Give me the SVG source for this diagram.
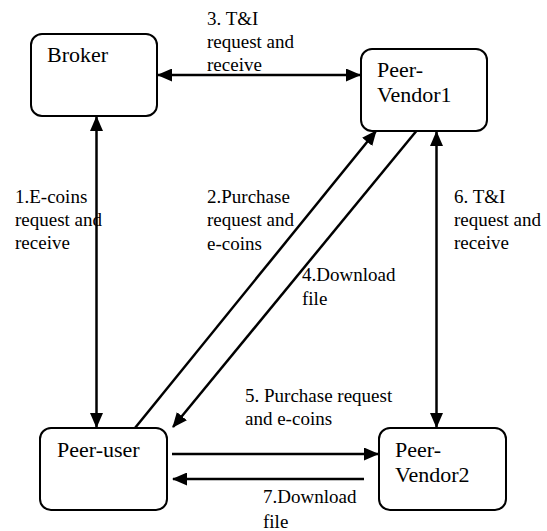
<svg xmlns="http://www.w3.org/2000/svg" width="547" height="531" viewBox="0 0 547 531">
<style>
.box{fill:#fff;stroke:#000;stroke-width:2}
.ln{stroke:#000;stroke-width:2.5;fill:none}
</style>
<defs>
<marker id="ah" markerUnits="userSpaceOnUse" markerWidth="15" markerHeight="13" viewBox="0 0 15 13" refX="14" refY="6.5" orient="auto-start-reverse">
<path d="M0,0 L15,6.5 L0,13 z" fill="#000"/>
</marker>
</defs>
<rect width="547" height="531" fill="#fff"/>
<g id="connectors">
<line class="ln" x1="158" y1="75" x2="360" y2="75" marker-start="url(#ah)" marker-end="url(#ah)"/>
<line class="ln" x1="96.5" y1="117" x2="96.5" y2="427" marker-start="url(#ah)" marker-end="url(#ah)"/>
<line class="ln" x1="436.5" y1="132" x2="436.5" y2="427" marker-start="url(#ah)" marker-end="url(#ah)"/>
<line class="ln" x1="135" y1="428" x2="376" y2="131" marker-end="url(#ah)"/>
<line class="ln" x1="418" y1="129" x2="173" y2="427" marker-end="url(#ah)"/>
<line class="ln" x1="172" y1="454" x2="378" y2="454" marker-end="url(#ah)"/>
<line class="ln" x1="364" y1="479" x2="173" y2="479" marker-end="url(#ah)"/>
</g>
<g font-family="Liberation Serif, Times New Roman, Times, serif" font-size="22" fill="#000">
<g id="broker">
<rect class="box" x="31" y="34" width="126" height="82" rx="11"/>
<text x="47" y="62">Broker</text>
</g>
<g id="peer-vendor1">
<rect class="box" x="361" y="49" width="126" height="82" rx="11"/>
<text x="377" y="77">Peer-</text>
<text x="377" y="102">Vendor1</text>
</g>
<g id="peer-user">
<rect class="box" x="40" y="428" width="127" height="82" rx="11"/>
<text x="57" y="457">Peer-user</text>
</g>
<g id="peer-vendor2">
<rect class="box" x="379" y="428" width="127" height="82" rx="11"/>
<text x="395" y="457">Peer-</text>
<text x="395" y="482">Vendor2</text>
</g>
</g>
<g id="labels" font-family="Liberation Serif, Times New Roman, Times, serif" font-size="19" fill="#000">
<text x="207" y="25">3. T&amp;I</text>
<text x="207" y="48">request and</text>
<text x="207" y="71">receive</text>
<text x="15" y="203">1.E-coins</text>
<text x="15" y="226">request and</text>
<text x="15" y="249">receive</text>
<text x="207" y="203">2.Purchase</text>
<text x="207" y="226">request and</text>
<text x="207" y="250">e-coins</text>
<text x="302" y="281">4.Download</text>
<text x="302" y="305">file</text>
<text x="454" y="203">6. T&amp;I</text>
<text x="454" y="226">request and</text>
<text x="454" y="249">receive</text>
<text x="245" y="402">5. Purchase request</text>
<text x="245" y="425">and e-coins</text>
<text x="263" y="503">7.Download</text>
<text x="263" y="528">file</text>
</g>
</svg>
